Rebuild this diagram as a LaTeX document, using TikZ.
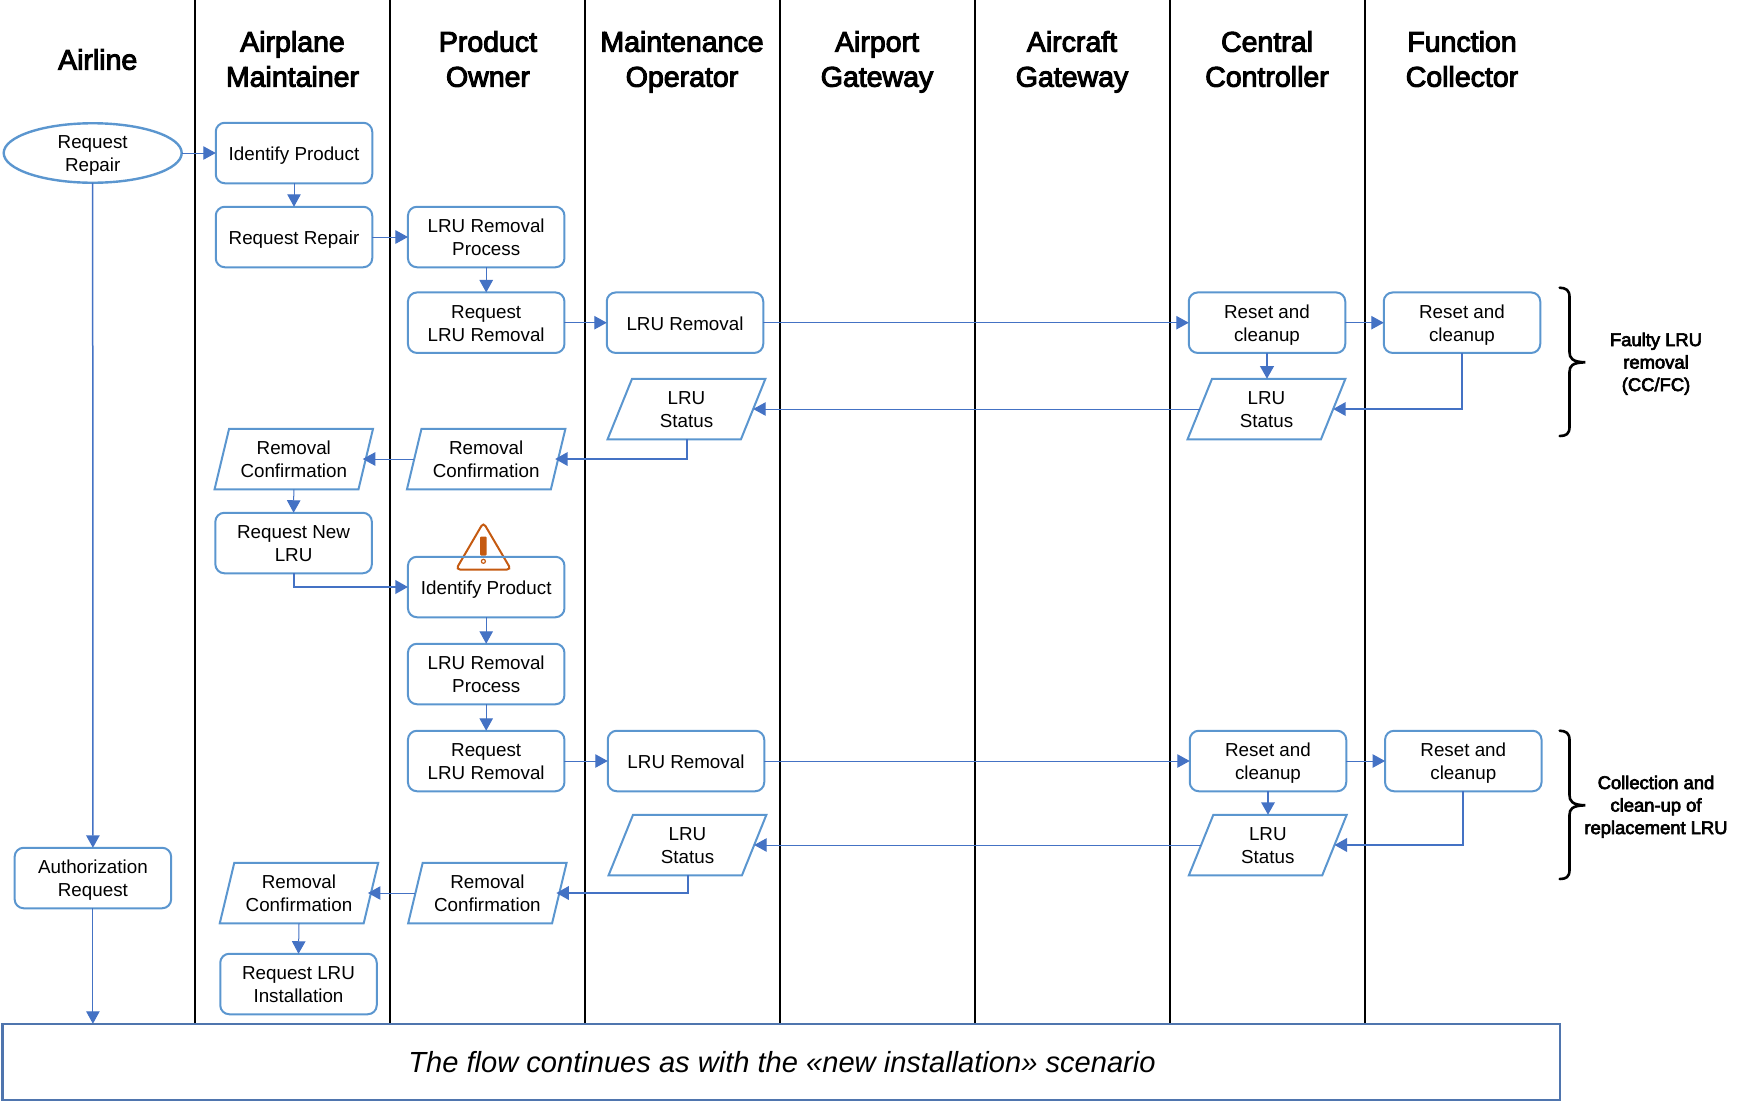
\documentclass[tikz,border=0pt]{standalone}
\usepackage{fontspec}
\setmainfont{Liberation Sans}
\newfontfamily\fakebf[FakeBold=3.5]{Liberation Sans}
\usetikzlibrary{arrows.meta,shapes.geometric}
\definecolor{boxc}{HTML}{5B96CF}
\definecolor{arrc}{HTML}{4472C4}
\definecolor{botc}{HTML}{4F75AE}
\definecolor{warnc}{HTML}{C55A11}
\tikzset{
  lane/.style={draw=black,line width=2pt},
  body/.style={font=\fontsize{18.8}{23}\selectfont,align=center,inner sep=0pt,outer sep=0pt,
    execute at begin node={\rule{0pt}{19.8pt}},execute at end node={\rule[-5.2pt]{0pt}{5.2pt}}},
  twolines/.style={execute at begin node={\rule{0pt}{42.8pt}}},
  procone/.style={body,draw=boxc,line width=2pt,rounded corners=9pt,minimum width=156.5pt,minimum height=60.5pt},
  proc/.style={procone,twolines},
  para/.style={body,twolines,draw=boxc,line width=2pt,trapezium,trapezium left angle=76,trapezium right angle=104,trapezium stretches=true,minimum width=158.5pt,minimum height=60.5pt},
  term/.style={body,twolines,draw=boxc,line width=2.4pt,ellipse,inner ysep=-3.2pt,minimum width=178pt,minimum height=59.5pt},
  headone/.style={font=\fakebf\fontsize{28.5}{35}\selectfont,align=center,inner sep=0pt,
    execute at begin node={\rule{0pt}{26.2pt}},execute at end node={\rule[-8.8pt]{0pt}{8.8pt}}},
  head/.style={headone,execute at begin node={\rule{0pt}{61.2pt}}},
  side/.style={font=\fakebf\fontsize{18.4}{22.5}\selectfont,align=center,inner sep=0pt,
    execute at begin node={\rule{0pt}{62.3pt}},execute at end node={\rule[-5.2pt]{0pt}{5.2pt}}},
  flow/.style={draw=arrc,line width=1pt,-{Triangle[length=12.5pt,width=13.5pt]}},
  flowb/.style={flow,line width=2pt},
  flowm/.style={flow,line width=1.5pt},
  brace/.style={draw=black,line width=2.6pt,line cap=round}
}
\newcommand{\bracepath}{
  (1559.7,287.7) .. controls (1566,288) and (1569.5,290) .. (1569.5,297) -- (1569.5,352)
  .. controls (1569.5,358) and (1572,362) .. (1585.4,362.3)
  .. controls (1572,362.6) and (1569.5,366) .. (1569.5,372) -- (1569.5,427)
  .. controls (1569.5,434) and (1566,436) .. (1559.7,436)}
\begin{document}
\begin{tikzpicture}[x=1pt,y=-1pt]
\useasboundingbox (0,0) rectangle (1741,1101);
% lanes
\foreach \lx in {195,390,585,780,975,1170,1365}{\draw[lane] (\lx,0) -- (\lx,1024);}
% headers
\node[headone] (h1) at (97.7,61) {Airline};
\node[head] (h2) at (292.5,60.5) {Airplane\\Maintainer};
\node[head] (h3) at (488,60.5) {Product\\Owner};
\node[head] (h4) at (682,60.5) {Maintenance\\Operator};
\node[head] (h5) at (877,60.5) {Airport\\Gateway};
\node[head] (h6) at (1072,60.5) {Aircraft\\Gateway};
\node[head] (h7) at (1267,60.5) {Central\\Controller};
\node[head] (h8) at (1462,60.5) {Function\\Collector};
% bottom band
\node[draw=botc,line width=2.4pt,fill=white,minimum width=1557.5pt,minimum height=76.5pt,inner sep=0pt,outer sep=0pt] (bot) at (781.2,1062) {};
\node[font=\fontsize{29.1}{34}\selectfont\itshape,inner sep=0pt] (bottxt) at (782,1062.5) {The flow continues as with the «new installation» scenario};
% warning icon (behind the box outline)
\draw[draw=warnc,line width=2pt,rounded corners=4pt] (483.4,522.5) -- (511,569.5) -- (456,569.5) -- cycle;
\fill[warnc,rounded corners=1pt] (480.2,536.5) rectangle (486.6,555.5);
\draw[warnc,line width=1.2pt] (483.4,561.3) circle (2pt);
% upper flow
\node[term] (rr) at (92.7,153) {Request\\Repair};
\node[procone] (ip) at (294,153) {Identify Product};
\node[procone] (rq) at (294,237) {Request Repair};
\node[proc] (lp) at (486.2,237) {LRU Removal\\Process};
\node[proc] (rl) at (486.2,322.7) {Request\\LRU Removal};
\node[procone] (lr) at (685,322.7) {LRU Removal};
\node[proc] (cc) at (1267,322.7) {Reset and\\cleanup};
\node[proc] (fc) at (1462,322.7) {Reset and\\cleanup};
\node[para] (cs) at (1266.5,409) {LRU\\Status};
\node[para] (ms) at (686.5,409) {LRU\\Status};
\node[para] (mc) at (486.2,459) {Removal\\Confirmation};
\node[para] (ac) at (293.8,459) {Removal\\Confirmation};
\node[proc] (rn) at (293.6,543) {Request New\\LRU};
\node[procone] (id) at (486.2,587) {Identify Product};
\node[proc] (lp2) at (486.2,674) {LRU Removal\\Process};
\node[proc] (rl2) at (486.2,761) {Request\\LRU Removal};
\node[procone] (lr2) at (686,761) {LRU Removal};
\node[proc] (cc2) at (1268,761) {Reset and\\cleanup};
\node[proc] (fc2) at (1463.3,761) {Reset and\\cleanup};
\node[para] (cs2) at (1267.8,845) {LRU\\Status};
\node[para] (ms2) at (687.5,845) {LRU\\Status};
\node[para] (mc2) at (487.4,893) {Removal\\Confirmation};
\node[para] (ac2) at (299,893) {Removal\\Confirmation};
\node[proc] (au) at (92.9,878) {Authorization\\Request};
\node[proc] (ri) at (298.5,984) {Request LRU\\Installation};
% connectors
\draw[flow] (rr.east) -- (ip.west);
\draw[flow] (ip.south) -- (rq.north);
\draw[flow] (rq.east) -- (lp.west);
\draw[flow] (lp.south) -- (rl.north);
\draw[flow] (rl.east) -- (lr.west);
\draw[flow] (lr.east) -- (cc.west);
\draw[flow] (cc.east) -- (fc.west);
\draw[flowb] (cc.south) -- (cc.south |- cs.north);
\draw[flowb] (fc.south) |- (cs.east);
\draw[flow] (cs.west) -- (ms.east);
\draw[flowb,shorten >=-3pt] (ms.south) |- (mc.east);
\draw[flow,shorten >=-3pt] (mc.west) -- (ac.east);
\draw[flow] (ac.south) -- (rn.north);
\draw[flowb] (rn.south) |- (id.west);
\draw[flow] (id.south) -- (lp2.north);
\draw[flow] (lp2.south) -- (rl2.north);
\draw[flow] (rl2.east) -- (lr2.west);
\draw[flow] (lr2.east) -- (cc2.west);
\draw[flow] (cc2.east) -- (fc2.west);
\draw[flowb] (cc2.south) -- (cc2.south |- cs2.north);
\draw[flowb] (fc2.south) |- (cs2.east);
\draw[flow] (cs2.west) -- (ms2.east);
\draw[flowb,shorten >=-3pt] (ms2.south) |- (mc2.east);
\draw[flow,shorten >=-3pt] (mc2.west) -- (ac2.east);
\draw[flow] (ac2.south) -- (ri.north);
\draw[flowm] (rr.south) -- (au.north);
\draw[flow] (au.south) -- (au.south |- bot.north);
% braces
\draw[brace] \bracepath;
\begin{scope}[yshift=-443pt]
\draw[brace] \bracepath;
\end{scope}
\node[side] (s1) at (1656,362.5) {Faulty LRU\\removal\\(CC/FC)};
\node[side] (s2) at (1656,805.5) {Collection and\\clean-up of\\replacement LRU};
\end{tikzpicture}
\end{document}
